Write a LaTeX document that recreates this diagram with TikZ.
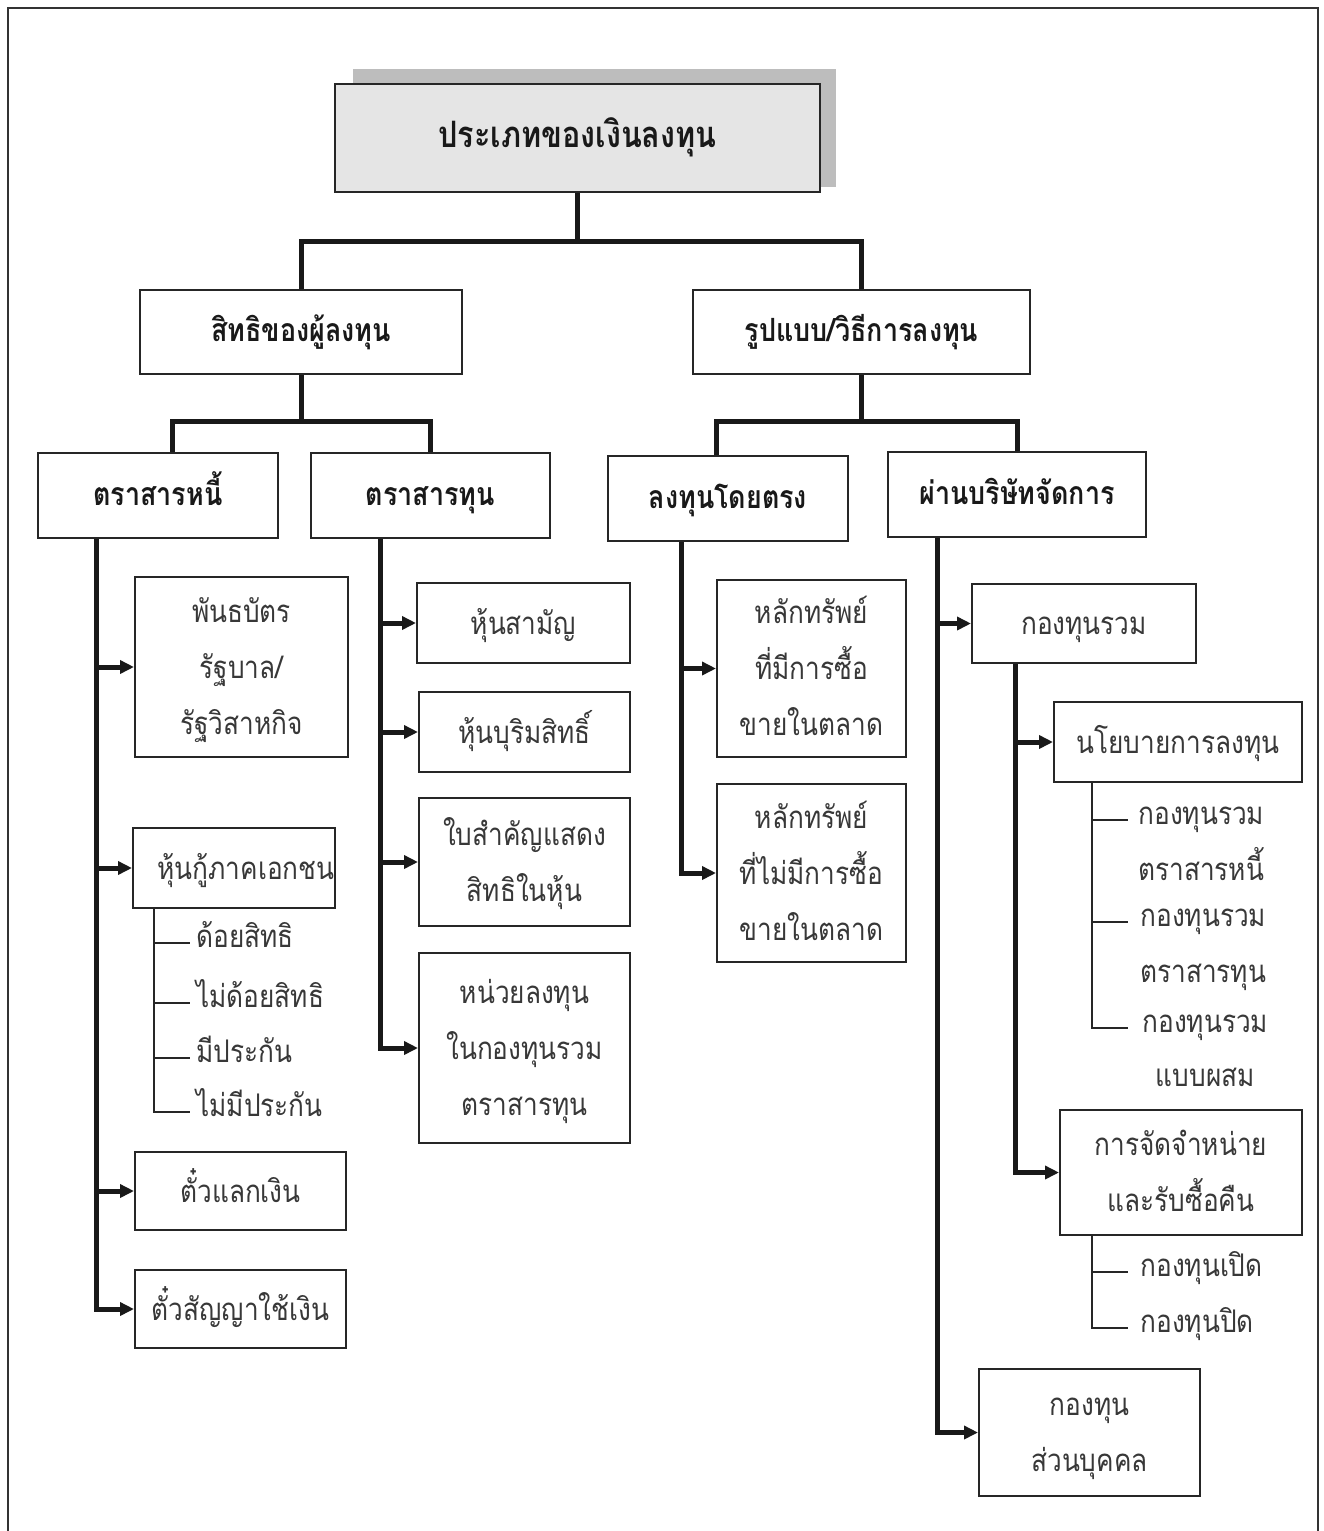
\documentclass[tikz,border=0pt]{standalone}
\usepackage{fontspec}
\newfontfamily\thaifont[Script=Thai,FakeStretch=0.84]{Loma}
\usetikzlibrary{fit,calc,arrows.meta}
\newcommand\ml[1]{\smash{\lower3.6pt\hbox{\begin{tabular}{@{}c@{}}#1\end{tabular}}}}
\begin{document}
\begin{tikzpicture}[x=0.5pt,y=-0.5pt,
  box/.style={draw=black!85, line width=1pt, fill=white, inner sep=0pt,
    font=\thaifont\fontsize{15.6}{28}\selectfont, text=black!78},
  hbox/.style={box, font=\thaifont\bfseries\fontsize{16}{28}\selectfont, text=black!90},
  trunk/.style={line width=2.5pt, draw=black!90},
  arr/.style={trunk, -{Triangle[length=7pt,width=6.5pt]}},
  sub/.style={line width=1.1pt, draw=black!85},
  item/.style={anchor=mid west, inner xsep=3pt, inner ysep=0pt,
    font=\thaifont\fontsize{15.6}{28}\selectfont, text=black!78},
  line2/.style={anchor=mid, inner sep=0pt, font=\thaifont\fontsize{15.6}{28}\selectfont, text=black!78}]
\useasboundingbox (0,0) rectangle (1323,1531);
\draw[line width=1.2pt, black!80] (8,1531) -- (8,8) -- (1318,8) -- (1318,1531);

% root
\fill[black!26] (353,69) rectangle (836,187);
\node[hbox, fill=black!10, font=\thaifont\bfseries\fontsize{18.2}{28}\selectfont, fit={(335,84) (820,192)}] (root) {\ml{ประเภทของเงินลงทุน}};

% level 2
\node[hbox, fit={(140,290) (462,374)}] (rights) {\ml{สิทธิของผู้ลงทุน}};
\node[hbox, fit={(693,290) (1030,374)}] (forms) {\ml{รูปแบบ/วิธีการลงทุน}};
\draw[trunk] (root.south) -- ++(0,48) -| (rights.north);
\draw[trunk] (root.south) -- ++(0,48) -| (forms.north);

% level 3
\node[hbox, fit={(38,453) (278,538)}] (debt) {\ml{ตราสารหนี้}};
\node[hbox, fit={(311,453) (550,538)}] (equity) {\ml{ตราสารทุน}};
\node[hbox, fit={(608,456) (848,541)}] (direct) {\ml{ลงทุนโดยตรง}};
\node[hbox, fit={(888,452) (1146,537)}] (via) {\ml{ผ่านบริษัทจัดการ}};
\draw[trunk] (rights.south) -- ++(0,46) -| ($(debt.north)+(14,0)$);
\draw[trunk] (rights.south) -- ++(0,46) -| (equity.north);
\draw[trunk] (forms.south) -- ++(0,46) -| ($(direct.north)+(-12,0)$);
\draw[trunk] (forms.south) -- ++(0,46) -| (via.north);

% debt instruments
\node[box, fit={(135,577) (348,757)}] (gov) {\ml{พันธบัตร\\รัฐบาล/\\รัฐวิสาหกิจ}};
\node[box, fit={(133,828) (335,908)}] (corp) {\ml{\hspace*{12pt}หุ้นกู้ภาคเอกชน}};
\node[box, fit={(135,1152) (346,1230)}] (bill) {\ml{ตั๋วแลกเงิน}};
\node[box, fit={(135,1270) (346,1348)}] (pnote) {\ml{ตั๋วสัญญาใช้เงิน}};
\coordinate (dT) at ($(debt.south west)+(59,0)$);
\draw[arr] (dT) |- (gov.west);
\draw[arr] (dT) |- (corp.west);
\draw[arr] (dT) |- (bill.west);
\draw[arr] (dT) |- (pnote.west);

\node[item] (c1) at (190,943) {ด้อยสิทธิ};
\node[item] (c2) at (190,1003) {ไม่ด้อยสิทธิ};
\node[item] (c3) at (190,1058) {มีประกัน};
\node[item] (c4) at (190,1112) {ไม่มีประกัน};
\coordinate (cT) at ($(corp.south west)+(22,0)$);
\draw[sub] (cT) |- (c1.mid west);
\draw[sub] (cT) |- (c2.mid west);
\draw[sub] (cT) |- (c3.mid west);
\draw[sub] (cT) |- (c4.mid west);

% equity instruments
\node[box, fit={(417,583) (630,663)}] (common) {\ml{หุ้นสามัญ}};
\node[box, fit={(419,692) (630,772)}] (pref) {\ml{หุ้นบุริมสิทธิ์}};
\node[box, fit={(419,798) (630,926)}] (warrant) {\ml{ใบสำคัญแสดง\\สิทธิในหุ้น}};
\node[box, fit={(419,953) (630,1143)}] (unit) {\ml{หน่วยลงทุน\\ในกองทุนรวม\\ตราสารทุน}};
\coordinate (eT) at ($(equity.south west)+(70,0)$);
\draw[arr] (eT) |- (common.west);
\draw[arr] (eT) |- (pref.west);
\draw[arr] (eT) |- (warrant.west);
\draw[arr] (eT) |- (unit.west);

% direct
\node[box, fit={(717,580) (906,757)}] (listed) {\ml{หลักทรัพย์\\ที่มีการซื้อ\\ขายในตลาด}};
\node[box, fit={(717,784) (906,962)}] (unlisted) {\ml{หลักทรัพย์\\ที่ไม่มีการซื้อ\\ขายในตลาด}};
\coordinate (rT) at ($(direct.south west)+(74,0)$);
\draw[arr] (rT) |- (listed.west);
\draw[arr] (rT) |- (unlisted.west);

% via management company
\node[box, fit={(972,584) (1196,663)}] (mf) {\ml{กองทุนรวม}};
\node[box, fit={(979,1369) (1200,1496)}] (pf) {\ml{กองทุน\\ส่วนบุคคล}};
\coordinate (vT) at ($(via.south west)+(50,0)$);
\draw[arr] (vT) |- (mf.west);
\draw[arr] (vT) |- (pf.west);

\node[box, fit={(1054,702) (1302,782)}] (policy) {\ml{นโยบายการลงทุน}};
\node[box, fit={(1060,1110) (1302,1235)}] (dist) {\ml{การจัดจำหน่าย\\และรับซื้อคืน}};
\coordinate (mT) at ($(mf.south west)+(44,0)$);
\draw[arr] (mT) |- (policy.west);
\draw[arr] (mT) |- (dist.west);

\node[item, inner xsep=5pt] (p1) at (1128,820) {กองทุนรวม};
\node[line2] (p1b) at ($(p1.mid)+(0,56)$) {ตราสารหนี้};
\node[item, inner xsep=6pt] (p2) at (1128,922) {กองทุนรวม};
\node[line2] (p2b) at ($(p2.mid)+(0,56)$) {ตราสารทุน};
\node[item, inner xsep=7pt] (p3) at (1128,1028) {กองทุนรวม};
\node[line2] (p3b) at ($(p3.mid)+(0,54)$) {แบบผสม};
\coordinate (pT) at ($(policy.south west)+(39,0)$);
\draw[sub] (pT) |- (p1.mid west);
\draw[sub] (pT) |- (p2.mid west);
\draw[sub] (pT) |- (p3.mid west);

\node[item, inner xsep=6pt] (d1) at (1128,1272) {กองทุนเปิด};
\node[item, inner xsep=6pt] (d2) at (1128,1328) {กองทุนปิด};
\coordinate (sT) at ($(dist.south west)+(33,0)$);
\draw[sub] (sT) |- (d1.mid west);
\draw[sub] (sT) |- (d2.mid west);
\end{tikzpicture}
\end{document}
